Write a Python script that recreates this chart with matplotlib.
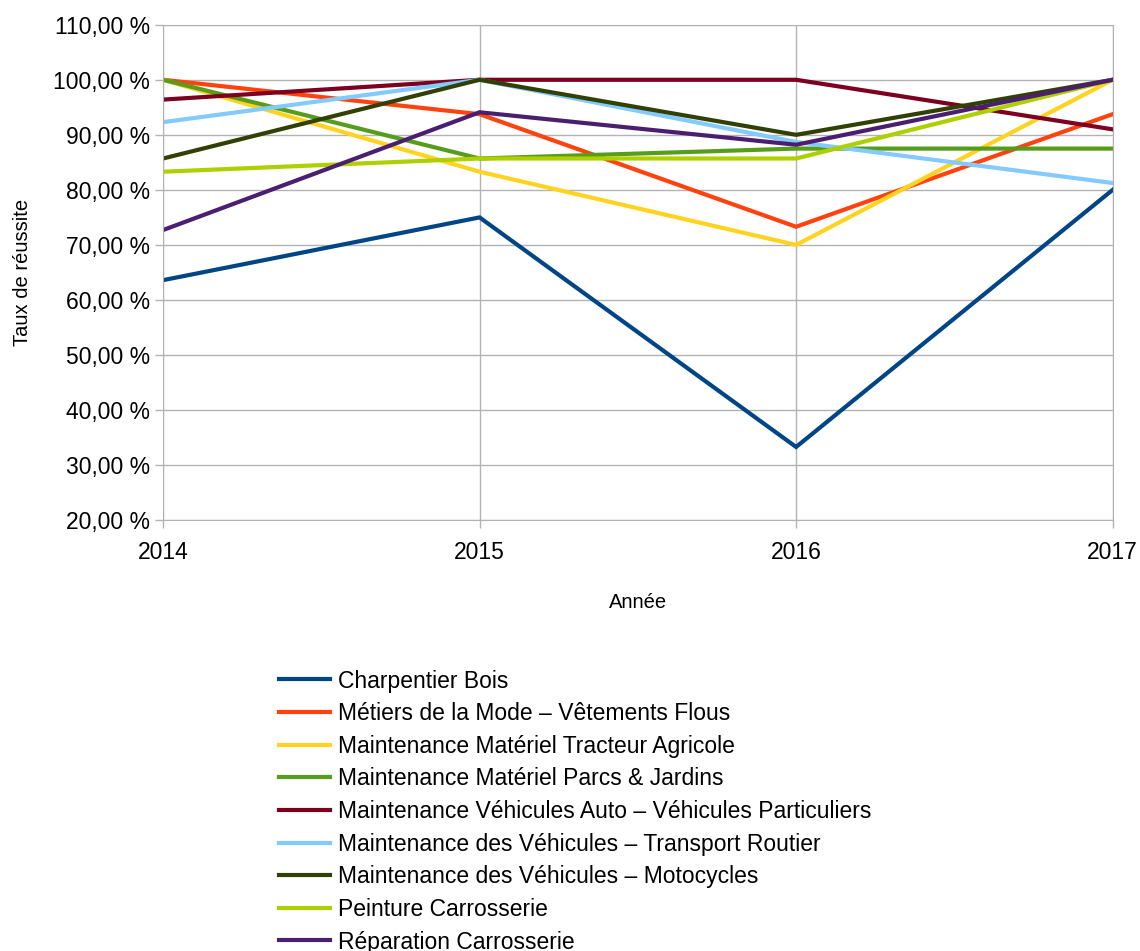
import matplotlib.pyplot as plt
from matplotlib.ticker import FuncFormatter

plt.rcParams['font.family'] = ['Liberation Sans', 'DejaVu Sans']

years = [2014, 2015, 2016, 2017]

labels = [
    'Charpentier Bois',
    'Métiers de la Mode – Vêtements Flous',
    'Maintenance Matériel Tracteur Agricole',
    'Maintenance Matériel Parcs & Jardins',
    'Maintenance Véhicules Auto – Véhicules Particuliers',
    'Maintenance des Véhicules – Transport Routier',
    'Maintenance des Véhicules – Motocycles',
    'Peinture Carrosserie',
    'Réparation Carrosserie',
]

charpentier = [63.6, 75.0, 33.3, 80.0]
mode = [100.0, 93.75, 73.3, 93.75]
tracteur = [100.0, 83.3, 70.0, 100.0]
parcs = [100.0, 85.7, 87.5, 87.5]
vp = [96.4, 100.0, 100.0, 91.0]
routier = [92.3, 100.0, 88.7, 81.25]
moto = [85.7, 100.0, 90.0, 100.0]
peinture = [83.3, 85.7, 85.7, 100.0]
reparation = [72.7, 94.1, 88.2, 100.0]

series = [charpentier, mode, tracteur, parcs, vp, routier, moto, peinture, reparation]
colors = ['#004586', '#ff420e', '#ffd320', '#579d1c', '#7e0021',
          '#83caff', '#314004', '#aecf00', '#4b1f6f']

fig = plt.figure(figsize=(11.4, 9.51), dpi=100)
ax = fig.add_axes([0.143, 0.453, 0.833, 0.521])

for vals, lab, c in zip(series, labels, colors):
    ax.plot(years, vals, color=c, lw=3, label=lab, solid_joinstyle='miter')

ax.set_xlim(2014, 2017)
ax.set_ylim(20, 110)
ax.set_xticks(years)
ax.set_yticks(range(20, 111, 10))
ax.yaxis.set_major_formatter(FuncFormatter(lambda v, p: f'{v:.2f}'.replace('.', ',') + ' %'))
ax.grid(True, color='#b3b3b3', lw=1)
ax.set_axisbelow(True)
for s in ax.spines.values():
    s.set_color('#b3b3b3')
ax.tick_params(colors='#b3b3b3', labelcolor='black', labelsize=16.5, length=6, width=1)
ax.tick_params(axis='x', pad=9)
ax.set_xlabel('Année', fontsize=14.5, labelpad=21)
ax.set_ylabel('Taux de réussite', fontsize=14.5, labelpad=15)

fig.legend(loc='upper left', bbox_to_anchor=(0.245, 0.296), frameon=False,
           fontsize=16.5, handlelength=2.2, handletextpad=0.35, labelspacing=0.42,
           borderaxespad=0, borderpad=0)

fig.savefig('out.png', dpi=100)
